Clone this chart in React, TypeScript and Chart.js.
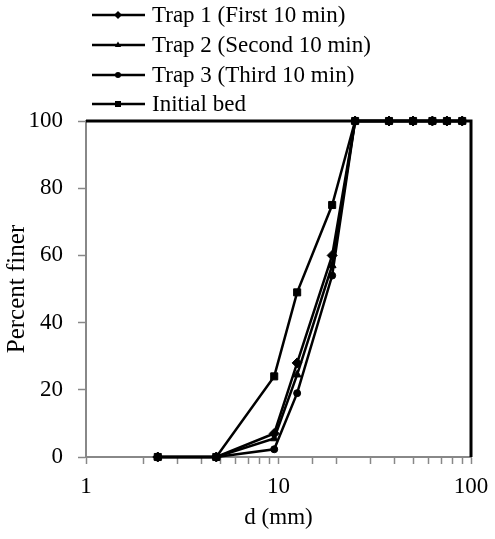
import React, { useEffect, useRef } from "react";
import { Chart, registerables } from "chart.js";

Chart.register(...registerables);

const diameters = [2.36, 4.75, 9.5, 12.5, 19, 25, 37.5, 50, 63, 75, 90];
const trap1 = [0, 0, 7, 28, 60, 100, 100, 100, 100, 100, 100];
const trap2 = [0, 0, 5.5, 24.5, 57, 100, 100, 100, 100, 100, 100];
const trap3 = [0, 0, 2.3, 19, 54, 100, 100, 100, 100, 100, 100];
const initialBed = [0, 0, 24, 49, 75, 100, 100, 100, 100, 100, 100];
const seriesLabels = [
  "Trap 1 (First 10 min)",
  "Trap 2 (Second 10 min)",
  "Trap 3 (Third 10 min)",
  "Initial bed",
];
const xTickLabels = [1, 10, 100];

const FONT = "'Liberation Serif', 'Times New Roman', serif";

const styles = [
  { pointStyle: "rectRot", radius: 5, legendRadius: 4 },
  { pointStyle: "triangle", radius: 4.5, legendRadius: 3.5 },
  { pointStyle: "circle", radius: 3.5, legendRadius: 3 },
  { pointStyle: "rect", radius: 5, legendRadius: 3 },
];

function drawMarker(ctx: CanvasRenderingContext2D, style: string, r: number, x: number, y: number) {
  ctx.beginPath();
  if (style === "rectRot") {
    ctx.moveTo(x, y - r);
    ctx.lineTo(x + r, y);
    ctx.lineTo(x, y + r);
    ctx.lineTo(x - r, y);
    ctx.closePath();
  } else if (style === "triangle") {
    ctx.moveTo(x, y - r);
    ctx.lineTo(x + r * 0.9, y + r * 0.6);
    ctx.lineTo(x - r * 0.9, y + r * 0.6);
    ctx.closePath();
  } else if (style === "circle") {
    ctx.arc(x, y, r, 0, Math.PI * 2);
  } else {
    ctx.rect(x - r, y - r, 2 * r, 2 * r);
  }
  ctx.fill();
}

const legendPlugin = {
  id: "customLegend",
  afterDraw(chart: any) {
    const ctx = chart.ctx;
    ctx.save();
    const rows = [15, 45, 75, 104];
    chart.data.datasets.forEach((ds: any, i: number) => {
      const y = rows[i];
      ctx.strokeStyle = "#000";
      ctx.lineWidth = 2.5;
      ctx.beginPath();
      ctx.moveTo(92, y);
      ctx.lineTo(145, y);
      ctx.stroke();
      ctx.fillStyle = "#000";
      drawMarker(ctx, styles[i].pointStyle, styles[i].legendRadius, 118, y);
      ctx.font = `23px ${FONT}`;
      ctx.textAlign = "left";
      ctx.textBaseline = "middle";
      ctx.fillText(ds.label, 152, y + 1);
    });
    ctx.restore();
  },
};

const borderPlugin = {
  id: "frameBorder",
  afterDatasetsDraw(chart: any) {
    const { ctx, chartArea } = chart;
    ctx.save();
    ctx.strokeStyle = "#000";
    ctx.lineWidth = 3;
    ctx.beginPath();
    ctx.moveTo(chartArea.left, chartArea.top);
    ctx.lineTo(chartArea.right, chartArea.top);
    ctx.lineTo(chartArea.right, chartArea.bottom);
    ctx.stroke();
    ctx.restore();
  },
};

export default function App() {
  const ref = useRef<HTMLCanvasElement>(null);
  useEffect(() => {
    document.body.style.margin = "0";
    const series = [trap1, trap2, trap3, initialBed];
    const chart = new Chart(ref.current!, {
      type: "line",
      data: {
        datasets: series.map((vals, i) => ({
          label: seriesLabels[i],
          data: diameters.map((d, j) => ({ x: d, y: vals[j] })),
          borderColor: "#000",
          backgroundColor: "#000",
          borderWidth: 2.5,
          pointStyle: styles[i].pointStyle as any,
          pointRadius: styles[i].radius,
          pointBorderWidth: 1,
          pointBackgroundColor: "#000",
          pointBorderColor: "#000",
          tension: 0,
          clip: false as any,
        })),
      },
      options: {
        animation: false,
        responsive: true,
        maintainAspectRatio: false,
        layout: { padding: { top: 121, right: 24, left: 0, bottom: 0 } },
        plugins: {
          legend: { display: false },
          tooltip: { enabled: false },
        },
        scales: {
          x: {
            type: "logarithmic",
            min: 1,
            max: 100,
            afterFit: (s: any) => {
              s.height = 82;
              s.paddingLeft = 0;
              s.paddingRight = 0;
            },
            grid: {
              drawOnChartArea: false,
              drawTicks: true,
              tickLength: 7,
              color: "#888",
              tickWidth: 1.5,
            },
            border: { color: "#888", width: 2 },
            ticks: {
              autoSkip: false,
              maxRotation: 0,
              padding: 9,
              color: "#000",
              font: { family: FONT, size: 23 },
              callback: (v: any) => (xTickLabels.includes(Number(v)) ? String(v) : ""),
            },
            title: {
              display: true,
              text: "d (mm)",
              color: "#000",
              font: { family: FONT, size: 23 },
              padding: { top: 0, bottom: 7 },
            },
          },
          y: {
            min: 0,
            max: 100,
            afterFit: (s: any) => {
              s.width = 86;
              s.paddingTop = 0;
              s.paddingBottom = 0;
            },
            grid: {
              drawOnChartArea: false,
              drawTicks: true,
              tickLength: 8,
              color: "#888",
              tickWidth: 1.5,
            },
            border: { color: "#888", width: 2 },
            ticks: {
              stepSize: 20,
              padding: 15,
              color: "#000",
              font: { family: FONT, size: 23 },
            },
            title: {
              display: true,
              text: "Percent finer",
              color: "#000",
              font: { family: FONT, size: 25 },
              padding: { top: 2, bottom: 0 },
            },
          },
        },
      },
      plugins: [legendPlugin, borderPlugin],
    });
    return () => chart.destroy();
  }, []);
  return (
    <div style={{ width: 495, height: 539, position: "relative" }}>
      <canvas ref={ref} />
    </div>
  );
}
